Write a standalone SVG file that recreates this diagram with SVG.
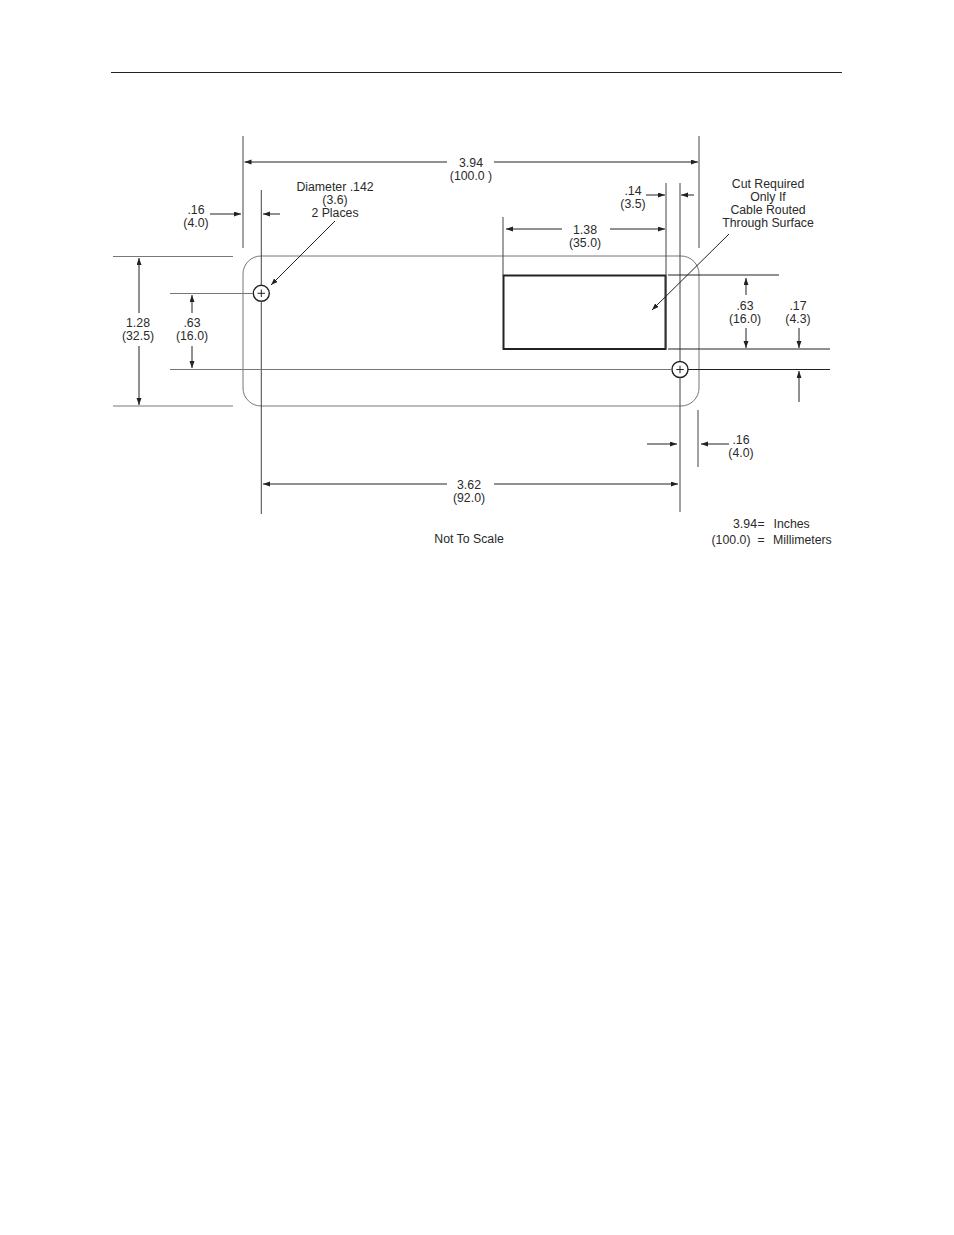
<svg xmlns="http://www.w3.org/2000/svg" width="954" height="1235" viewBox="0 0 954 1235">
<style>
text{font-family:"Liberation Sans",Arial,sans-serif;font-size:12.3px;fill:#2a2a2a;text-anchor:middle}
.l{stroke:#444;stroke-width:1;fill:none}
.g{stroke:#777;stroke-width:1;fill:none}
.d{stroke:#222;stroke-width:1;fill:none;marker-end:url(#a)}
.n{stroke:#222;stroke-width:1;fill:none}
</style>
<defs>
<marker id="a" markerUnits="userSpaceOnUse" markerWidth="8" markerHeight="6" refX="7" refY="2.5" orient="auto"><path d="M0 0L7 2.5L0 5Z" fill="#222"/></marker>
</defs>
<rect width="954" height="1235" fill="#fff"/>
<path d="M111 72.5H842" stroke="#222" stroke-width="1"/>
<g id="plate"><rect x="243" y="256" width="456" height="150" rx="18" class="g" stroke-width="1.3"/></g>
<g id="cutout"><rect x="503.5" y="275.5" width="162" height="73.5" fill="none" stroke="#222" stroke-width="2"/></g>
<g id="hole-left"><circle cx="261.3" cy="293.3" r="8" fill="#fff" stroke="#222" stroke-width="1.4"/><path d="M257.5 293.3H265M261.3 289.5V297" stroke="#222" stroke-width="1"/></g>
<g id="hole-right"><circle cx="680" cy="369.5" r="8" fill="#fff" stroke="#222" stroke-width="1.4"/><path d="M676.3 369.5H683.8M680 365.8V373.3" stroke="#222" stroke-width="1"/></g>
<g id="connectors">
<path class="l" d="M243 136V248M699 136V248M698 410V467M503 217V275M666 183V349"/>
<path class="l" d="M261.3 190V285M261.3 301V514M680 183V361M680 378V512"/>
<path class="g" d="M113 256.500H233M113 406H233M170 293.500H253M170 369.500H672"/>
<path class="n" d="M668 275H779M668 349H830M688 369.500H830"/>
<path class="d" d="M447 162H244.500"/><path class="d" d="M494 162H698"/>
<path class="d" d="M210 214H241"/><path class="d" d="M280 214H263"/>
<path class="d" d="M646 195H665"/><path class="d" d="M694 195H681"/>
<path class="d" d="M562 229H506"/><path class="d" d="M610 229H665"/>
<path class="d" d="M139 313V258"/><path class="d" d="M139 346V405"/>
<path class="d" d="M192 313V295"/><path class="d" d="M192 346V368"/>
<path class="d" d="M746 295V278"/><path class="d" d="M746 328V348"/>
<path class="d" d="M799 328V348"/><path class="d" d="M799 402V371"/>
<path class="d" d="M335 221L271 285"/><path class="d" d="M729 234L652 310"/>
<path class="d" d="M647 444H677"/><path class="d" d="M729 444H701"/>
<path class="d" d="M447 484H263"/><path class="d" d="M494 484H678"/>
</g>
<g id="labels">
<text x="471" y="167">3.94</text><text x="471" y="180">(100.0 )</text>
<text x="196" y="214">.16</text><text x="196" y="227">(4.0)</text>
<text x="335" y="191">Diameter .142</text><text x="335" y="204">(3.6)</text><text x="335" y="217">2 Places</text>
<text x="633" y="195">.14</text><text x="633" y="208">(3.5)</text>
<text x="768" y="188">Cut Required</text><text x="768" y="201">Only If</text><text x="768" y="214">Cable Routed</text><text x="768" y="227">Through Surface</text>
<text x="585" y="234">1.38</text><text x="585" y="247">(35.0)</text>
<text x="138" y="327">1.28</text><text x="138" y="340">(32.5)</text>
<text x="192" y="327">.63</text><text x="192" y="340">(16.0)</text>
<text x="745" y="310">.63</text><text x="745" y="323">(16.0)</text>
<text x="798" y="310">.17</text><text x="798" y="323">(4.3)</text>
<text x="741" y="444">.16</text><text x="741" y="457">(4.0)</text>
<text x="469" y="489">3.62</text><text x="469" y="502">(92.0)</text>
<text x="469" y="543">Not To Scale</text>
<text x="745" y="528">3.94</text><text x="761" y="528">=</text><text x="772.500" y="528" style="text-anchor:start" dx="1">Inches</text>
<text x="731" y="544" dx="0">(100.0)</text><text x="761" y="544">=</text><text x="773" y="544" style="text-anchor:start">Millimeters</text>
</g>
</svg>
